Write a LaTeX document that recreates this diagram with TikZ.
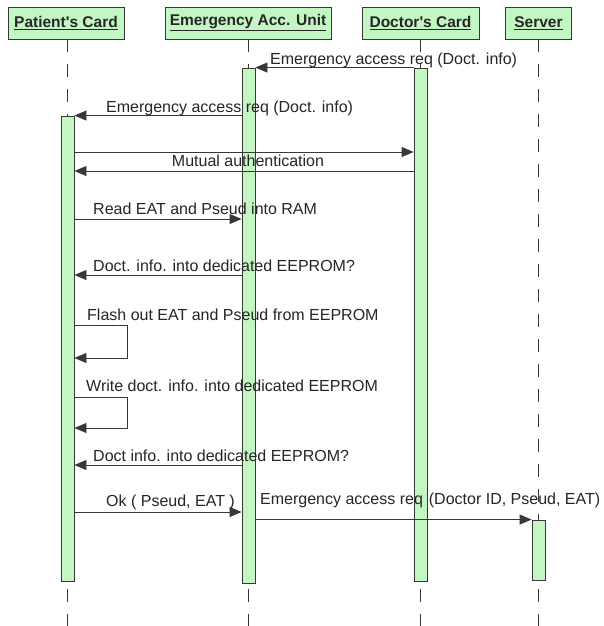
\documentclass[tikz,border=0pt]{standalone}
\usepackage{fontspec}
\newfontfamily\lib{Liberation Sans}
\usetikzlibrary{arrows.meta}
\definecolor{lgreen}{HTML}{C4F6C4}
\definecolor{ink}{HTML}{383838}
\begin{document}
\begin{tikzpicture}[x=1pt,y=-1pt,
  head/.style={draw=ink, fill=lgreen, line width=0.9pt, inner sep=0pt, minimum height=32pt,
    font=\lib\fontsize{15.5}{18}\selectfont\bfseries, text=black!85},
  bar/.style={draw=ink, fill=lgreen, line width=0.9pt, inner sep=0pt, minimum width=13pt},
  life/.style={draw=ink, line width=0.9pt, dash pattern=on 13pt off 12pt},
  msg/.style={draw=ink, line width=0.9pt, -{Triangle[length=12pt,width=10pt]}},
  lbl/.style={anchor=base west, inner sep=0pt, font=\lib\fontsize{16}{19}\selectfont, text=black!85}]
\useasboundingbox (0,0) rectangle (603,626);
\fill[white] (0,0) rectangle (603,626);

% headers
\node[head, minimum width=116pt] (hP) at (66,23) {\underline{Patient's Card}};
\node[head, minimum width=166pt] (hE) at (248,23) {\underline{Emergency Acc. Unit}};
\node[head, minimum width=117pt] (hD) at (420.5,23) {\underline{Doctor's Card}};
\node[head, minimum width=66pt] (hS) at (538.5,23) {\underline{Server}};

% lifelines
\coordinate (lP0) at (67.5,39);  \coordinate (lP1) at (67.5,626);
\coordinate (lE0) at (248.5,39); \coordinate (lE1) at (248.5,626);
\coordinate (lD0) at (420.5,39); \coordinate (lD1) at (420.5,626);
\coordinate (lS0) at (538.5,39); \coordinate (lS1) at (538.5,626);
\draw[life] (lP0) -- (lP1);
\draw[life] (lE0) -- (lE1);
\draw[life] (lD0) -- (lD1);
\draw[life] (lS0) -- (lS1);

% activation bars
\node[bar, minimum height=465pt] (bP) at (67.5,348.5) {};
\node[bar, minimum height=515pt] (bE) at (248.5,325.5) {};
\node[bar, minimum height=513pt] (bD) at (420.5,324.5) {};
\node[bar, minimum height=60pt] (bS) at (538.5,550) {};

% messages
\draw[msg] (bD.north west) -- (bE.north east);
\node[lbl] (t1) at (270,64) {Emergency access req (Doct. info)};

\draw[msg] (bE.west |- bP.north) -- (bP.north east);
\node[lbl] (t2) at (106,112) {Emergency access req (Doct. info)};

\draw[msg] (bP.east |- 0,152) -- (bD.west |- 0,152);
\draw[msg] (bD.west |- 0,171) -- (bP.east |- 0,171);
\node[lbl, anchor=base] (t3) at (248,166) {Mutual authentication};

\draw[msg] (bP.east |- 0,219) -- (bE.west |- 0,219);
\node[lbl] (t4) at (93,214) {Read EAT and Pseud into RAM};

\draw[msg] (bE.west |- 0,275) -- (bP.east |- 0,275);
\node[lbl] (t5) at (93,271) {Doct. info. into dedicated EEPROM?};

\draw[msg] (bP.east |- 0,325) -- ++(53,0) -- ++(0,33) -- (bP.east |- 0,358);
\node[lbl] (t6) at (87,320) {Flash out EAT and Pseud from EEPROM};

\draw[msg] (bP.east |- 0,397) -- ++(53,0) -- ++(0,31) -- (bP.east |- 0,428);
\node[lbl] (t7) at (86,391) {Write doct. info. into dedicated EEPROM};

\draw[msg] (bE.west |- 0,465) -- (bP.east |- 0,465);
\node[lbl] (t8) at (93,461) {Doct info. into dedicated EEPROM?};

\draw[msg] (bP.east |- 0,512) -- (bE.west |- 0,512);
\node[lbl] (t9) at (106,506) {Ok ( Pseud, EAT )};

\draw[msg] (bE.east |- bS.north) -- (bS.north west);
\node[lbl] (t10) at (260,504) {Emergency access req\hspace{6pt}(Doctor ID, Pseud, EAT)};
\end{tikzpicture}
\end{document}
